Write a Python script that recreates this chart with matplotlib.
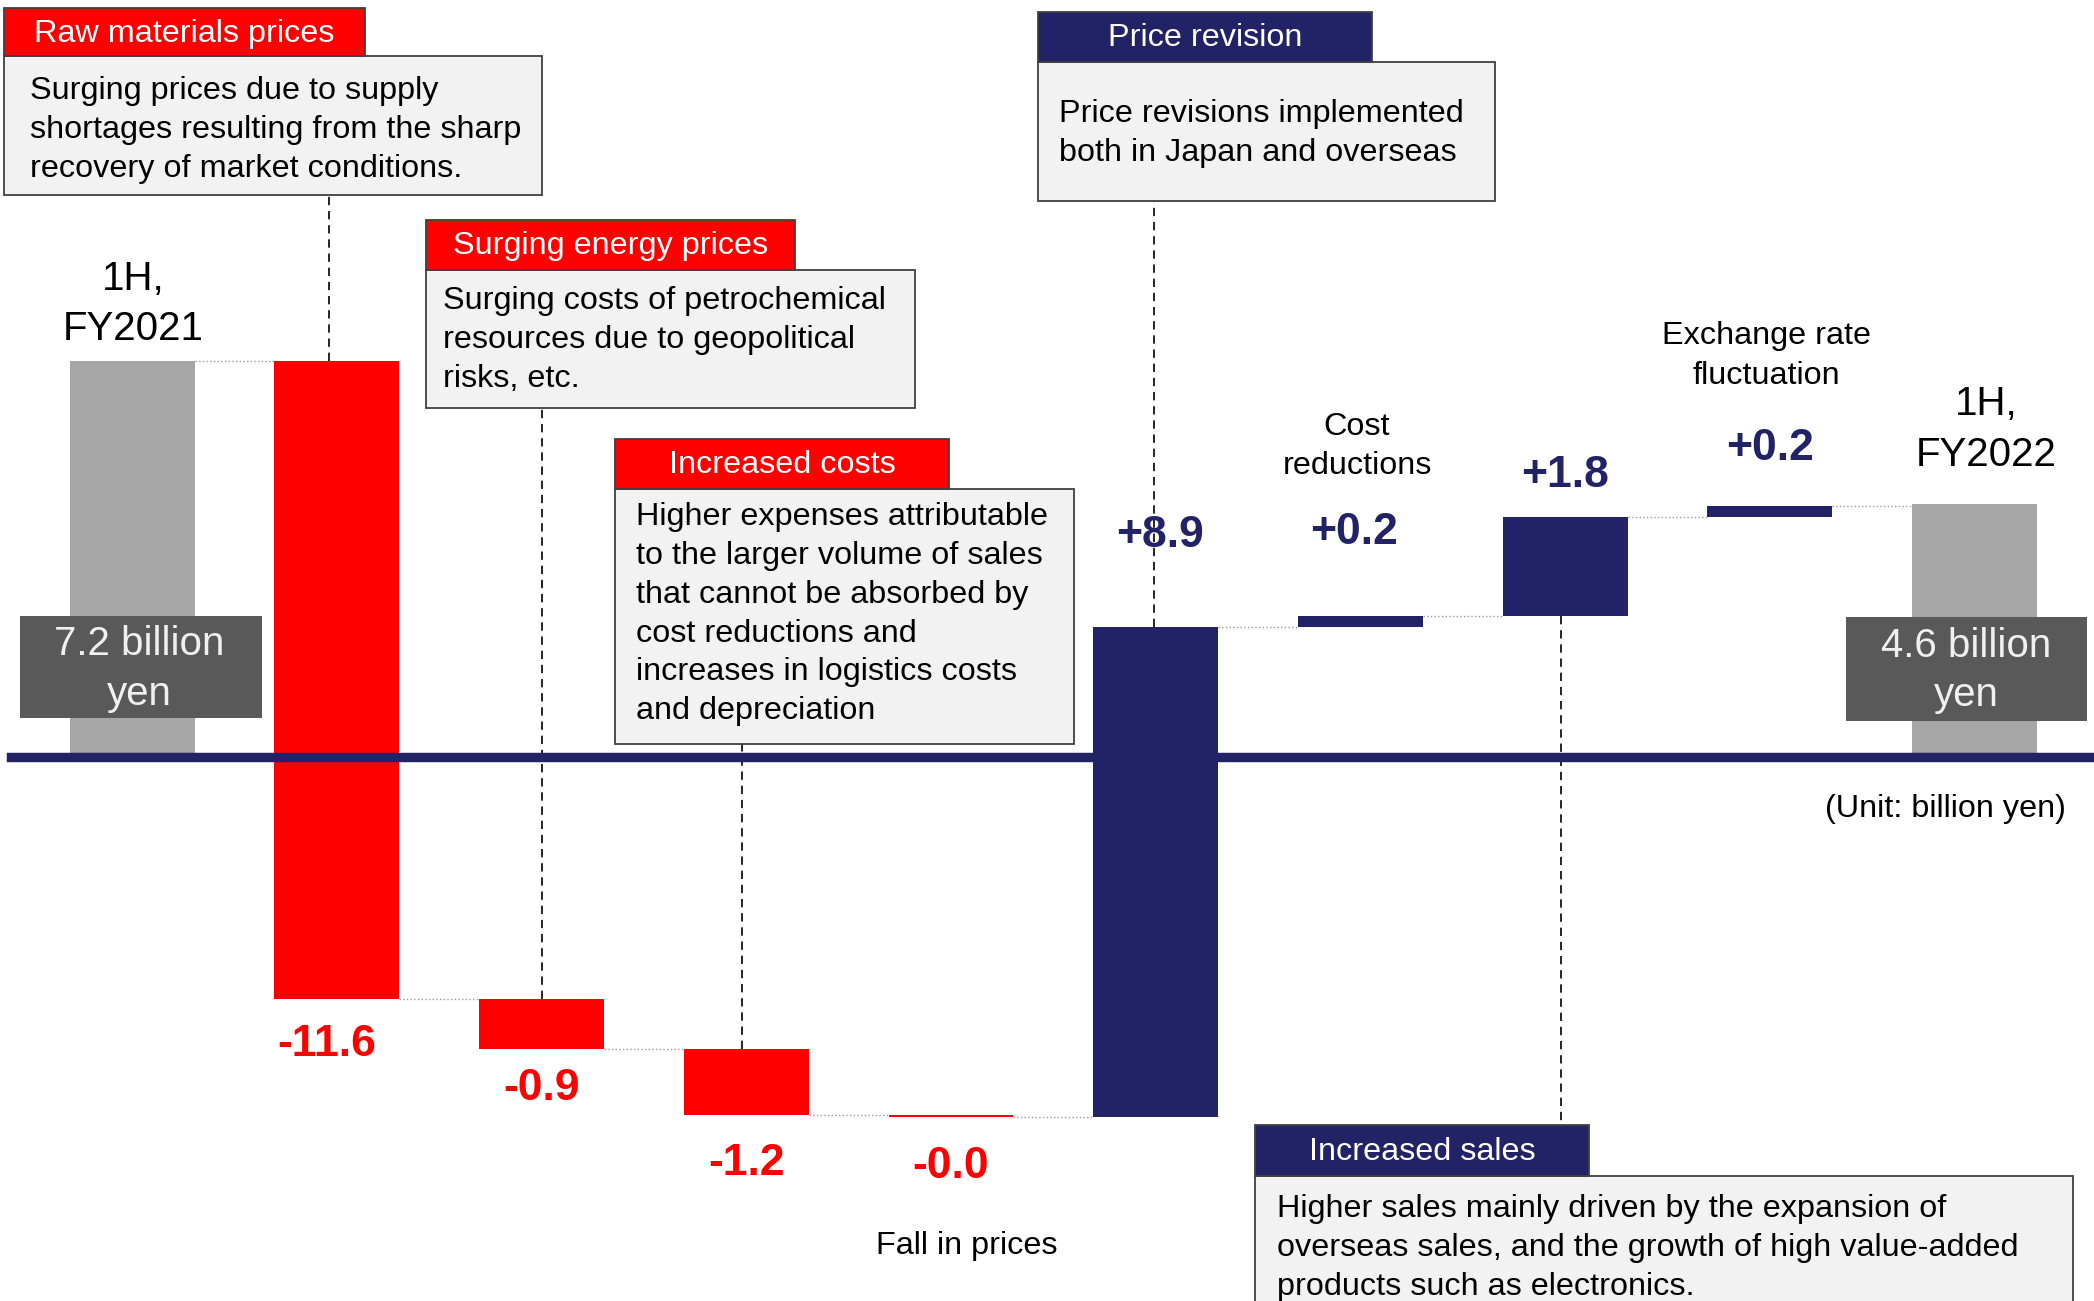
import matplotlib.pyplot as plt
from matplotlib.patches import Rectangle

plt.rcParams['font.family'] = ['Liberation Sans', 'DejaVu Sans']

# Waterfall data (billion yen)
categories = ['1H, FY2021', 'Raw materials prices', 'Surging energy prices',
              'Increased costs', 'Fall in prices', 'Price revision',
              'Cost reductions', 'Increased sales', 'Exchange rate fluctuation',
              '1H, FY2022']
values = [7.2, -11.6, -0.9, -1.2, -0.04, 8.9, 0.2, 1.8, 0.2, 4.6]
is_total = [True, False, False, False, False, False, False, False, False, True]
value_labels = ['7.2 billion\nyen', '-11.6', '-0.9', '-1.2', '-0.0',
                '+8.9', '+0.2', '+1.8', '+0.2', '4.6 billion\nyen']

RED = '#ff0000'
NAVY = '#222266'
GREY = '#a6a6a6'
DARK = '#595959'
BOXFILL = '#f2f2f2'
EDGE = '#404040'

# reference layout is measured on a 1560 x 969 grid
W, H = 1560.0, 969.3
def fx(px):
    return px / W
def fy(py):
    return 1 - py / H

fig = plt.figure(figsize=(20.94, 13.01), dpi=100)
ax = fig.add_axes([0, 0, 1, 1])
ax.axis('off')
# one category = 152.5 grid px, one billion yen = 41 grid px
x_lo, x_hi = -98.5 / 152.5, (W - 98.5) / 152.5
y_hi, y_lo = 564 / 41.0, -(H - 564) / 41.0
ax.set_xlim(x_lo, x_hi)
ax.set_ylim(y_lo, y_hi)

def frac_to_y(f):
    return y_lo + f * (y_hi - y_lo)

# build waterfall
bottoms, heights, colors, ends = [], [], [], []
cum = 0
for v, tot in zip(values, is_total):
    if tot:
        bottoms.append(0)
        heights.append(v)
        colors.append(GREY)
        cum = v
        ends.append(v)
    else:
        bottoms.append(cum)
        heights.append(v)
        colors.append(RED if v < 0 else NAVY)
        cum += v
        ends.append(cum)
xs = list(range(len(values)))
bw = 0.61
ax.bar(xs, heights, bottom=bottoms, width=bw, color=colors, zorder=2)

# connectors
for i in range(len(values) - 1):
    lvl = ends[i]
    ax.plot([i + bw / 2, i + 1 - bw / 2], [lvl, lvl], color='#9a9a9a',
            lw=1, ls=':', zorder=1)

# zero line
ax.axhline(0, xmin=fx(8), xmax=fx(1557), color=NAVY, lw=6.8, zorder=3)

# value labels of the changes
label_y = [None, 778, 811, 867, 869, 399, 397, 354, 334, None]
label_dx = [0, -0.05, 0, 0, 0, 0.02, -0.03, 0, 0, 0]
for i, lab in enumerate(value_labels):
    if is_total[i]:
        continue
    col = RED if values[i] < 0 else NAVY
    ax.annotate(lab, xy=(i + label_dx[i], fy(label_y[i])),
                xycoords=('data', 'axes fraction'), ha='center', va='center',
                fontsize=32, fontweight='bold', color=col, zorder=5)

# totals: dark label boxes
for i, (x0, x1, y0, y1, tx, ly) in zip(
        [0, 9], [(15, 195, 459, 535, 104, (480, 517)),
                 (1375, 1555, 460, 537, 1465, (481, 518))]):
    ax.add_patch(Rectangle((fx(x0), fy(y1)), fx(x1) - fx(x0), fy(y0) - fy(y1),
                           transform=ax.transAxes, facecolor=DARK,
                           edgecolor='none', zorder=4))
    for line, yy in zip(value_labels[i].split('\n'), ly):
        ax.text(fx(tx), fy(yy), line, transform=ax.transAxes, ha='center',
                va='center', fontsize=29, color='#f0f0f0', zorder=5)

# category captions
captions = [
    (['1H,', 'FY2021'], 99, [208, 245], 29),
    (['1H,', 'FY2022'], 1480, [301, 339], 29),
    (['Cost', 'reductions'], 1011, [318, 347], 23.3),
    (['Exchange rate', 'fluctuation'], 1316, [250, 280], 23.3),
    (['Fall in prices'], 720, [928], 23.3),
]
for lines, tx, ly, fs in captions:
    for line, yy in zip(lines, ly):
        ax.text(fx(tx), fy(yy), line, transform=ax.transAxes, ha='center',
                va='center', fontsize=fs, color='black')
ax.text(fx(1539), fy(603), '(Unit: billion yen)', transform=ax.transAxes,
        ha='right', va='center', fontsize=23.3, color='black')

# callout boxes: header, body, text lines, leader
callouts = [
    dict(title='Raw materials prices', hcol=RED, hx=(3, 272), hy=(6, 42),
         bx=(3, 404), by=(42, 145), tx=22,
         lines=['Surging prices due to supply',
                'shortages resulting from the sharp',
                'recovery of market conditions.'],
         ly0=68, bar=1, lead_x=-0.04, lead_from=145),
    dict(title='Surging energy prices', hcol=RED, hx=(317, 592), hy=(164, 201),
         bx=(317, 682), by=(201, 304), tx=330,
         lines=['Surging costs of petrochemical',
                'resources due to geopolitical',
                'risks, etc.'],
         ly0=224, bar=2, lead_x=0, lead_from=304),
    dict(title='Increased costs', hcol=RED, hx=(458, 707), hy=(327, 364),
         bx=(458, 800), by=(364, 554), tx=474,
         lines=['Higher expenses attributable',
                'to the larger volume of sales',
                'that cannot be absorbed by',
                'cost reductions and',
                'increases in logistics costs',
                'and depreciation'],
         ly0=385, bar=3, lead_x=-0.02, lead_from=554),
    dict(title='Price revision', hcol=NAVY, hx=(773, 1022), hy=(9, 46),
         bx=(773, 1114), by=(46, 150), tx=789,
         lines=['Price revisions implemented',
                'both in Japan and overseas'],
         ly0=85, bar=5, lead_x=-0.01, lead_from=150),
    dict(title='Increased sales', hcol=NAVY, hx=(935, 1184), hy=(838, 876),
         bx=(935, 1544), by=(876, 1010), tx=951,
         lines=['Higher sales mainly driven by the expansion of',
                'overseas sales, and the growth of high value-added',
                'products such as electronics.'],
         ly0=901, bar=7, lead_x=-0.02, lead_from=838),
]
for c in callouts:
    (hx0, hx1), (hy0, hy1) = c['hx'], c['hy']
    (bx0, bx1), (by0, by1) = c['bx'], c['by']
    ax.add_patch(Rectangle((fx(bx0), fy(by1)), fx(bx1) - fx(bx0),
                           fy(by0) - fy(by1), transform=ax.transAxes,
                           facecolor=BOXFILL, edgecolor=EDGE, lw=1.3,
                           zorder=6, clip_on=False))
    ax.add_patch(Rectangle((fx(hx0), fy(hy1)), fx(hx1) - fx(hx0),
                           fy(hy0) - fy(hy1), transform=ax.transAxes,
                           facecolor=c['hcol'], edgecolor=EDGE, lw=1.3,
                           zorder=7, clip_on=False))
    ax.text(fx((hx0 + hx1) / 2), fy((hy0 + hy1) / 2 + 1), c['title'],
            transform=ax.transAxes, ha='center', va='center', fontsize=23.3,
            color='white', zorder=8)
    for k, line in enumerate(c['lines']):
        ax.text(fx(c['tx']), fy(c['ly0'] + 29 * k), line,
                transform=ax.transAxes, ha='left', va='center',
                fontsize=23.3, color='black', zorder=8)
    # dashed leader from box edge to the bar
    i = c['bar']
    if values[i] < 0 or c['title'] == 'Increased sales':
        bar_end = bottoms[i]
    else:
        bar_end = bottoms[i] + heights[i]
    ax.plot([i + c['lead_x']] * 2, [bar_end, frac_to_y(fy(c['lead_from']))],
            color='black', lw=1.2, ls=(0, (5, 3.5)), zorder=1)

fig.savefig('out.png', dpi=100)
plt.close(fig)
